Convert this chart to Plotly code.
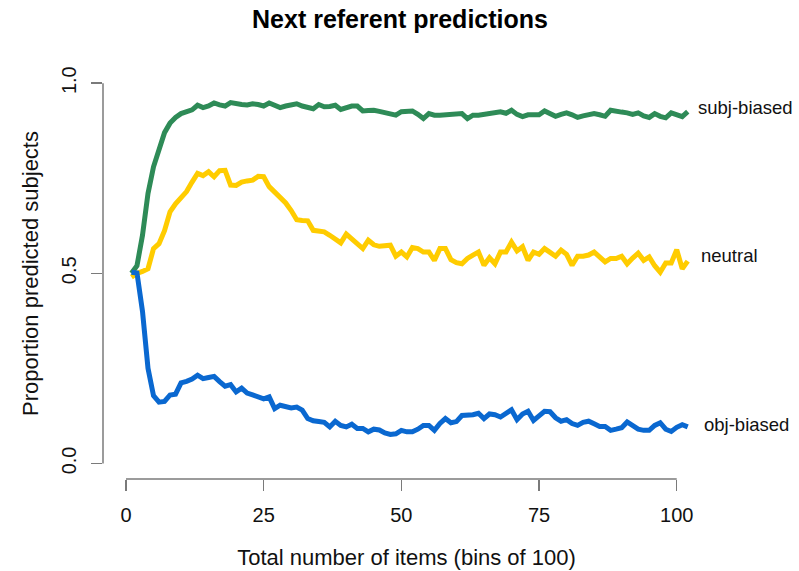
import plotly.graph_objects as go

bins = list(range(1, 103))

subj_biased = [
    0.50, 0.52, 0.60, 0.71, 0.78, 0.83, 0.87, 0.895, 0.91, 0.92,
    0.925, 0.93, 0.942, 0.936, 0.94, 0.948, 0.943, 0.94, 0.949, 0.945,
    0.944, 0.943, 0.946, 0.944, 0.94, 0.948, 0.942, 0.936, 0.94, 0.944,
    0.946, 0.94, 0.936, 0.933, 0.944, 0.938, 0.939, 0.942, 0.931, 0.936,
    0.94, 0.94, 0.927, 0.928, 0.929, 0.926, 0.922, 0.918, 0.916, 0.925,
    0.926, 0.927, 0.918, 0.907, 0.92, 0.916, 0.916, 0.917, 0.916, 0.918,
    0.92, 0.907, 0.916, 0.916, 0.918, 0.92, 0.922, 0.925, 0.921, 0.929,
    0.918, 0.912, 0.917, 0.917, 0.917, 0.927, 0.92, 0.913, 0.918, 0.922,
    0.917, 0.91, 0.914, 0.917, 0.92, 0.917, 0.913, 0.929, 0.925, 0.924,
    0.922, 0.918, 0.922, 0.914, 0.91, 0.92, 0.913, 0.909, 0.922, 0.916,
    0.912, 0.925,
]

neutral = [
    0.49, 0.50, 0.505, 0.512, 0.565, 0.578, 0.612, 0.662, 0.683, 0.697,
    0.715, 0.74, 0.763, 0.757, 0.767, 0.754, 0.77, 0.771, 0.732, 0.731,
    0.74, 0.743, 0.745, 0.755, 0.754, 0.728, 0.715, 0.70, 0.685, 0.665,
    0.641, 0.639, 0.638, 0.613, 0.611, 0.609, 0.60, 0.588, 0.58, 0.603,
    0.59, 0.58, 0.565, 0.587, 0.575, 0.571, 0.573, 0.574, 0.545, 0.556,
    0.543, 0.568, 0.565, 0.556, 0.556, 0.534, 0.565, 0.565, 0.536, 0.528,
    0.525, 0.539, 0.548, 0.556, 0.521, 0.541, 0.525, 0.556, 0.556, 0.582,
    0.559, 0.57, 0.534, 0.556, 0.55, 0.565, 0.555, 0.545, 0.561, 0.55,
    0.521, 0.545, 0.545, 0.548, 0.556, 0.542, 0.53, 0.539, 0.539, 0.545,
    0.525, 0.54, 0.553, 0.534, 0.543, 0.52, 0.503, 0.527, 0.527, 0.562,
    0.512, 0.532,
]

obj_biased = [
    0.503, 0.501, 0.40, 0.25, 0.178, 0.161, 0.163, 0.18, 0.182, 0.212,
    0.216, 0.222, 0.232, 0.223, 0.226, 0.229, 0.215, 0.203, 0.207, 0.188,
    0.198, 0.185, 0.18, 0.175, 0.17, 0.175, 0.144, 0.153, 0.149, 0.146,
    0.148, 0.14, 0.118, 0.112, 0.11, 0.108, 0.096, 0.111, 0.10, 0.096,
    0.103, 0.092, 0.092, 0.083, 0.09, 0.088, 0.08, 0.076, 0.078, 0.087,
    0.083, 0.083, 0.09, 0.10, 0.10, 0.087, 0.105, 0.118, 0.107, 0.11,
    0.126, 0.126, 0.128, 0.132, 0.118, 0.13, 0.128, 0.122, 0.132, 0.141,
    0.115, 0.13, 0.137, 0.113, 0.125, 0.137, 0.136, 0.12, 0.111, 0.115,
    0.105, 0.10, 0.108, 0.111, 0.104, 0.097, 0.097, 0.087, 0.09, 0.094,
    0.109, 0.10, 0.09, 0.087, 0.087, 0.10, 0.107, 0.09, 0.084, 0.095,
    0.102, 0.096,
]

series_names = ["subj-biased", "neutral", "obj-biased"]
series_values = [subj_biased, neutral, obj_biased]
series_colors = ["#2E8B57", "#FFCC00", "#0A68D0"]

x_ticks = [0, 25, 50, 75, 100]
y_ticks = [0.0, 0.5, 1.0]
y_tick_labels = ["0.0", "0.5", "1.0"]

FONT = "Liberation Sans, Arial, sans-serif"

fig = go.Figure()
for name, vals, col in zip(series_names, series_values, series_colors):
    fig.add_trace(go.Scatter(
        x=bins, y=vals, mode="lines", name=name,
        line=dict(color=col, width=5, shape="linear"),
        showlegend=False, hoverinfo="skip",
    ))

# end labels
label_dx = [1.5, 2.1, 2.5]
label_dy = [4, 6, 2]
for name, vals, dx, dy in zip(series_names, series_values, label_dx, label_dy):
    fig.add_annotation(
        x=bins[-1] + dx, y=vals[-1], xref="x", yref="y",
        text=name, showarrow=False, xanchor="left", yanchor="middle",
        yshift=dy, font=dict(family=FONT, size=18.5, color="#111"),
    )

axis_col = "#7a7a7a"
# R-style axis lines spanning only the tick range
fig.add_shape(type="line", xref="x", yref="paper",
              x0=x_ticks[0], x1=x_ticks[-1], y0=0, y1=0,
              line=dict(color=axis_col, width=1.5))
fig.add_shape(type="line", xref="paper", yref="y",
              x0=0, x1=0, y0=y_ticks[0], y1=y_ticks[-1],
              line=dict(color=axis_col, width=1.5))

fig.update_layout(
    width=799, height=571,
    margin=dict(l=103, r=89, t=68, b=92, autoexpand=False),
    plot_bgcolor="white", paper_bgcolor="white",
    font=dict(family=FONT, size=19, color="#111"),
    title=dict(text="<b>Next referent predictions</b>", xref="container",
               x=400 / 799, xanchor="center",
               y=1 - 19 / 571, yanchor="middle",
               font=dict(family=FONT, size=25, color="#000")),
    xaxis=dict(
        range=[-4.17, 106.04], tickvals=x_ticks, ticktext=[str(t) for t in x_ticks],
        ticks="outside", ticklen=11, tickwidth=1.5, tickcolor=axis_col,
        showline=False, showgrid=False, zeroline=False,
        ticklabelstandoff=7, tickfont=dict(family=FONT, size=20, color="#111"),
        title=dict(text="Total number of items (bins of 100)", standoff=24,
                   font=dict(family=FONT, size=22, color="#111")),
        automargin=False,
    ),
    yaxis=dict(
        range=[-0.041, 1.04], tickvals=y_ticks, ticktext=y_tick_labels,
        ticks="outside", ticklen=11, tickwidth=1.5, tickcolor=axis_col,
        showline=False, showgrid=False, zeroline=False, tickangle=-90,
        ticklabelstandoff=7, tickfont=dict(family=FONT, size=20, color="#111"),
        title=dict(text="Proportion predicted subjects", standoff=13,
                   font=dict(family=FONT, size=22, color="#111")),
        automargin=False,
    ),
)

fig.write_html(
    "out.html",
    config={"displayModeBar": False, "staticPlot": True},
    post_script="document.body.style.margin='0';document.body.style.overflow='hidden';",
)
